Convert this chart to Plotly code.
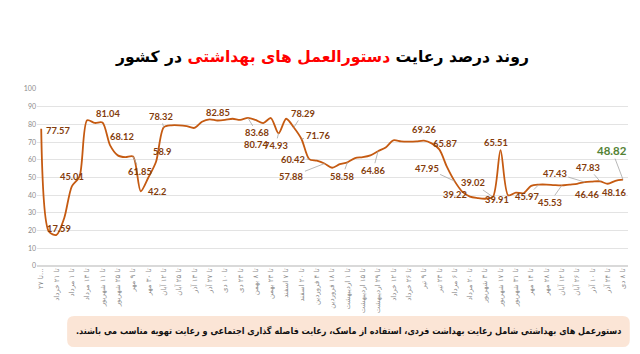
import plotly.graph_objects as go

values = [77.57, 19.5, 17.59, 27, 45.01, 50.5, 82.3, 80.8, 81.04, 68.12,
          62.5, 61.5, 61.85, 42.2, 50, 58.9, 78.32, 79.5, 79.5, 79,
          78, 81.5, 82.85, 82.2, 82.5, 83.2, 82.6, 83.68, 82.5, 80.74,
          83.6, 74.93, 83.2, 78.29, 71.76, 60.42, 59.5, 57.88, 55.5, 57.5,
          58.58, 61, 61.5, 62.5, 64.86, 67, 71, 70.4, 70.3, 70.4,
          70.8, 69.26, 65.87, 56, 47.95, 42, 39.22, 38.4, 38, 39.02,
          65.51, 39.91, 41.5, 41.1, 45.3, 45.97, 46, 45.7, 45.53, 46,
          46.4, 47.43, 47.7, 47.83, 46.46, 48.16, 48.82]

tick_labels = ["تا ۲۷...", "تا ۲۱ خرداد", "تا ۱ مرداد", "تا ۱۳ مرداد", "تا ۱۱ شهریور",
               "تا ۲۵ شهریور", "تا ۹ مهر", "تا ۳۰ مهر", "تا ۱۲ آبان", "تا ۲۵ آبان",
               "تا ۱۳ آذر", "تا ۲۷ آذر", "تا ۱۰ دی", "تا ۲۳ دی", "تا ۸ بهمن",
               "تا ۲۳ بهمن", "تا ۷ اسفند", "تا ۲۰ اسفند", "تا ۴ فروردین", "تا ۱۸ فروردین",
               "تا ۱ اردیبهشت", "تا ۱۵ اردیبهشت", "تا ۲۹ اردیبهشت", "تا ۱۲ خرداد", "تا ۲۶ خرداد",
               "تا ۹ تیر", "تا ۲۳ تیر", "تا ۶ مرداد", "تا ۲۰ مرداد", "تا ۳ شهریور",
               "تا ۱۷ شهریور", "تا ۳۱ شهریور", "تا ۱۴ مهر", "تا ۲۸ مهر", "تا ۱۲ آبان",
               "تا ۲۶ آبان", "تا ۱۰ آذر", "تا ۲۴ آذر", "تا ۸ دی"]

# labelled points: index, ax, ay, leader line
label_idx = [0, 2, 4, 8, 9, 12, 13, 15, 16, 22, 27, 29, 31, 33, 34, 35, 37, 40, 44,
             51, 52, 54, 56, 59, 60, 61, 65, 68, 71, 73, 74, 75, 76]
label_ax = [17, 2, 0, 6, 12, 7, 16, 6, -3, 8, 9, -7, -3, 9, 16, -16, -33, -5, -5,
            -8, 6, -28, -15, -20, -5, -11, -12, -12, -30, -12, -21, -1, -11]
label_ay = [2, -6, -10, -9, -9, 15, 0, -10, -11, -7, 15, 21, 12, -14, -3, 0, 13, 14, 19,
            -14, -6, -13, -2, -14, -8, 4, 12, 17, -9, -14, 11, 12, -29]
label_leader = [0, 0, 0, 0, 0, 1, 0, 0, 1, 0, 1, 0, 1, 1, 1, 1, 1, 1, 1,
                0, 1, 1, 0, 1, 0, 0, 1, 1, 1, 1, 0, 0, 1]

x = list(range(len(values)))
tick_vals = list(range(0, len(values), 2))

fig = go.Figure()
fig.add_trace(go.Scatter(x=x, y=values, mode="lines",
                         line=dict(color="#C55A11", width=1.8, shape="spline", smoothing=0.8),
                         hoverinfo="skip"))

annotations = []
for k, i in enumerate(label_idx):
    last = (i == len(values) - 1)
    annotations.append(dict(
        x=i, y=values[i], xref="x", yref="y",
        text=f"{values[i]:g}" if not last else f"{values[i]:.2f}",
        showarrow=True, arrowhead=0, arrowwidth=0.8,
        arrowcolor="#A6A6A6" if label_leader[k] else "rgba(0,0,0,0)",
        ax=label_ax[k], ay=label_ay[k], standoff=0,
        font=dict(family="Lato", size=11.5 if last else 9.3,
                  color="#548235" if last else "#843C0C", weight="bold"),
    ))

annotations.append(dict(
    xref="paper", yref="paper", x=0.482, y=1.181,
    text="روند درصد رعایت <span style='color:#FF0000'>دستورالعمل های بهداشتی</span> در کشور",
    showarrow=False, xanchor="center", yanchor="middle",
    font=dict(family="DejaVu Sans", size=15.6, color="#000000", weight="bold"),
))
annotations.append(dict(
    xref="paper", yref="paper", x=0.527, y=-0.367,
    text="دستورعمل های بهداشتی شامل رعایت بهداشت فردی، استفاده از ماسک، رعایت فاصله گذاری اجتماعی و رعایت تهویه مناسب می باشند.\u200f",
    showarrow=False, xanchor="center", yanchor="middle",
    font=dict(family="DejaVu Sans Condensed", size=9.0, color="#111111", weight="bold"),
))

x0, x1, y0, y1 = 0.051, 1.003, -0.458, -0.282
rx, ry = 0.012, 0.04
path = (f"M {x0+rx},{y0} L {x1-rx},{y0} Q {x1},{y0} {x1},{y0+ry} "
        f"L {x1},{y1-ry} Q {x1},{y1} {x1-rx},{y1} L {x0+rx},{y1} "
        f"Q {x0},{y1} {x0},{y1-ry} L {x0},{y0+ry} Q {x0},{y0} {x0+rx},{y0} Z")

fig.update_layout(
    width=640, height=354,
    margin=dict(l=37, r=12, t=89, b=88),
    paper_bgcolor="white", plot_bgcolor="white",
    showlegend=False,
    annotations=annotations,
    shapes=[dict(type="path", xref="paper", yref="paper", path=path,
                 fillcolor="#FBE5D6", line=dict(width=0), layer="below")],
    xaxis=dict(range=[-0.55, 76.65], tickmode="array", tickvals=tick_vals,
               ticktext=tick_labels, tickangle=-90, showgrid=False, zeroline=False,
               showline=False, ticks="",
               tickfont=dict(family="DejaVu Sans", size=7, color="#8C8C8C")),
    yaxis=dict(range=[0, 100], dtick=10, showgrid=True, gridcolor="#E3E3E3",
               gridwidth=1, zeroline=True, zerolinecolor="#D9D9D9", showline=False,
               ticks="", tickfont=dict(family="Lato", size=7, color="#8C8C8C")),
)

fig.write_html("out.html")
